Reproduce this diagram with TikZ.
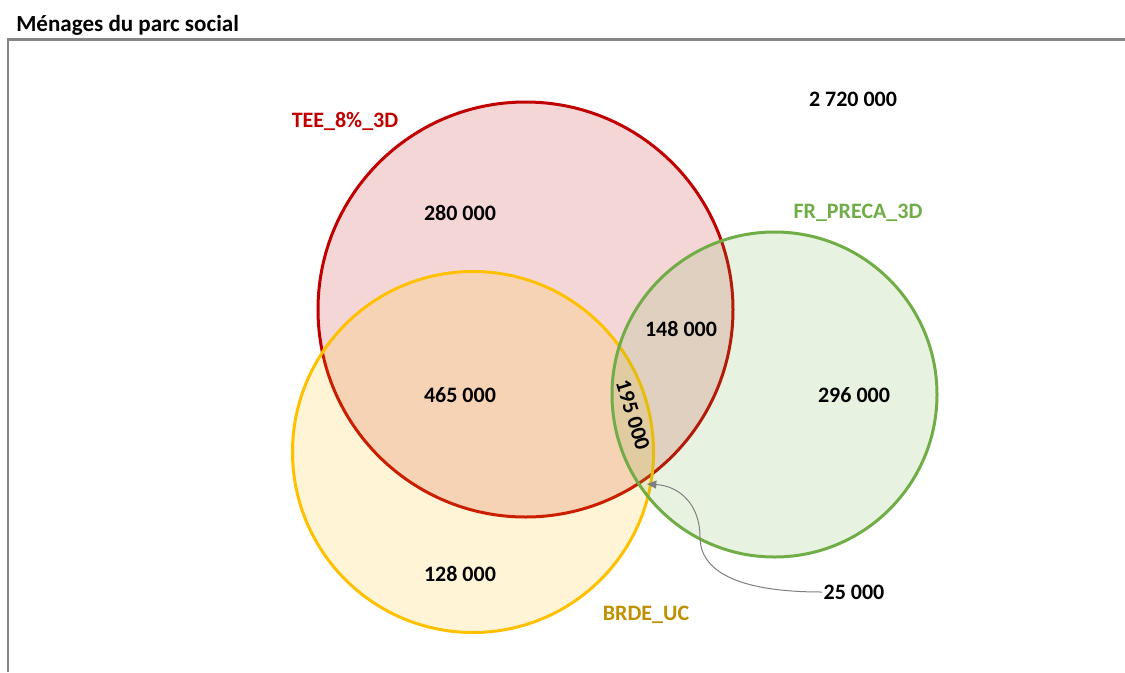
\documentclass[tikz,border=0pt]{standalone}
\usepackage{fontspec}
\setmainfont{Carlito}
\usetikzlibrary{arrows.meta}
\usepackage{xcolor}
\definecolor{RedSet}{HTML}{C00000}
\definecolor{GoldSet}{HTML}{FFC000}
\definecolor{GreenSet}{HTML}{70AD47}
\definecolor{GoldText}{HTML}{BF9000}
\definecolor{FrameGray}{HTML}{868686}
\definecolor{ArrowGray}{HTML}{7F7F7F}

\begin{document}
\begin{tikzpicture}[x=0.75pt,y=-0.75pt,font=\bfseries\fontsize{16.5}{20}\selectfont,
    set/.style={circle,inner sep=0pt,line width=2.25pt,fill opacity=0.16},
    count/.style={inner sep=1pt}]
    \useasboundingbox (0,0) rectangle (1125,672);
    % frame and title
    \draw[FrameGray,line width=1.8pt] (8,672) -- (8,39.5) -- (1125,39.5);
    \node[anchor=west,inner sep=0pt,font=\bfseries\fontsize{17.3}{20}\selectfont] (title) at (16,25) {Ménages du parc social};
    % the three sets -- sizes in px*0.75
    \node[set,draw=RedSet,fill=RedSet,minimum size=311.25pt] (tee) at (525.5,309.5) {};
    \node[set,draw=GoldSet,fill=GoldSet,minimum size=270.75pt] (brde) at (473,452) {};
    \node[set,draw=GreenSet,fill=GreenSet,minimum size=243.75pt] (fr) at (774.5,394.5) {};
    \node[text=RedSet] (teelabel) at (345,121) {TEE\_8\%\_3D};
    \node[text=GreenSet] (frlabel) at (858,213) {FR\_PRECA\_3D};
    \node[text=GoldText] (brdelabel) at (646,615) {BRDE\_UC};
    % counts
    \foreach \txt/\x/\y/\nm in {280 000/460/213/t, 465 000/460/395/tb, 128 000/460/574/b,
        148 000/681/329/tf, 296 000/854/395/f, 2 720 000/853/99/none}
      \node[count] (n\nm) at (\x,\y) {\txt};
    \node[count,rotate=-73] (ntbf) at (633,415) {195 000};
    \node[count] (nbf) at (854,592) {25 000};
    \coordinate (bfspot) at (647,484);
    \draw[ArrowGray,line width=0.75pt,-{Triangle[length=7pt,width=6pt]}]
      (nbf.west) .. controls (735,592) and (700,570) .. (700,537)
      .. controls (700,505) and (680,486) .. (bfspot);
\end{tikzpicture}
\end{document}
